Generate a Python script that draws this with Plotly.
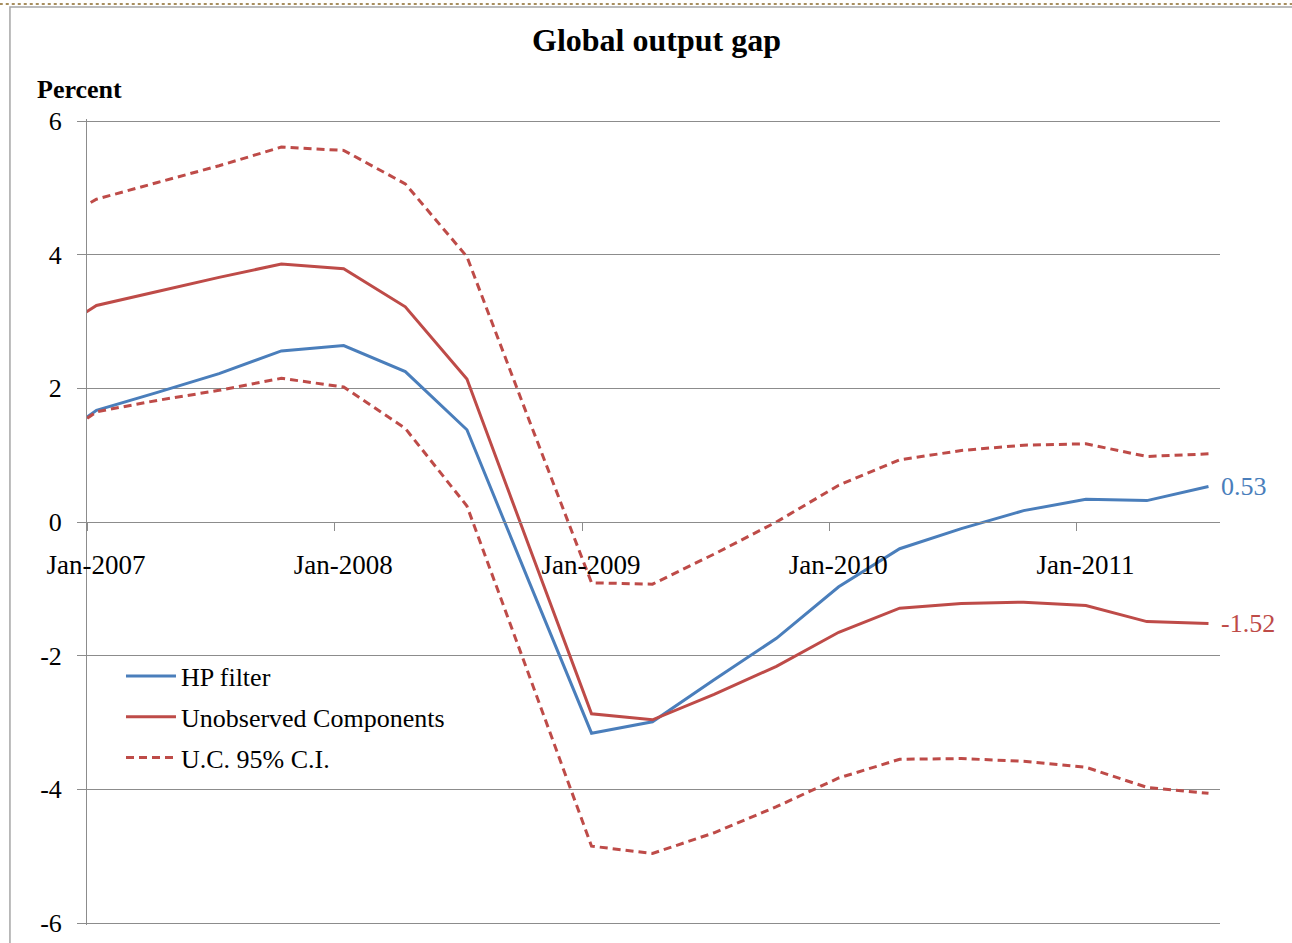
import plotly.graph_objects as go

# ---- data ----
dates = ["2006-10-15", "2007-01-15", "2007-04-15", "2007-07-15", "2007-10-15",
         "2008-01-15", "2008-04-15", "2008-07-15", "2008-10-15",
         "2009-01-15", "2009-04-15", "2009-07-15", "2009-10-15",
         "2010-01-15", "2010-04-15", "2010-07-15", "2010-10-15",
         "2011-01-15", "2011-04-15", "2011-07-15"]
hp_filter = [1.01, 1.67, 1.94, 2.22, 2.56, 2.64, 2.25, 1.38, -0.90,
             -3.16, -2.99, -2.36, -1.74, -0.97, -0.40, -0.10, 0.17,
             0.34, 0.32, 0.53]
unobserved = [2.65, 3.24, 3.45, 3.66, 3.86, 3.79, 3.22, 2.14, -0.37,
              -2.87, -2.96, -2.58, -2.16, -1.65, -1.29, -1.22, -1.20,
              -1.25, -1.49, -1.52]
ci_upper = [4.30, 4.83, 5.08, 5.33, 5.61, 5.56, 5.06, 3.97, 1.52,
            -0.91, -0.93, -0.48, 0.00, 0.55, 0.93, 1.07, 1.15,
            1.17, 0.98, 1.02]
ci_lower = [0.99, 1.65, 1.82, 1.97, 2.15, 2.02, 1.40, 0.24, -2.30,
            -4.85, -4.96, -4.65, -4.26, -3.83, -3.55, -3.54, -3.58,
            -3.67, -3.97, -4.06]
tick_dates = ["2007-01-01", "2008-01-01", "2009-01-01", "2010-01-01", "2011-01-01"]
tick_labels = ["Jan-2007", "Jan-2008", "Jan-2009", "Jan-2010", "Jan-2011"]
y_ticks = [-6, -4, -2, 0, 2, 4, 6]
y_tick_labels = [str(v) for v in y_ticks]

BLUE = "#4A7EBB"
RED = "#BE4B48"
FONT = "Liberation Serif"
FS = 26

fig = go.Figure()
fig.add_trace(go.Scatter(x=dates, y=hp_filter, mode="lines", name="HP filter",
                         line=dict(color=BLUE, width=3), legendgroup="a"))
fig.add_trace(go.Scatter(x=dates, y=unobserved, mode="lines", name="Unobserved Components",
                         line=dict(color=RED, width=3), legendgroup="b"))
fig.add_trace(go.Scatter(x=dates, y=ci_upper, mode="lines", name="U.C. 95% C.I.",
                         line=dict(color=RED, width=3, dash="8px,5px"), legendgroup="c"))
fig.add_trace(go.Scatter(x=dates, y=ci_lower, mode="lines", name="U.C. 95% C.I.",
                         line=dict(color=RED, width=3, dash="8px,5px"), legendgroup="c",
                         showlegend=False))

# end labels
fig.add_annotation(x=dates[-1], y=hp_filter[-1], text=f"{hp_filter[-1]:.2f}",
                   showarrow=False, xanchor="left", xshift=11,
                   font=dict(family=FONT, size=FS, color=BLUE))
fig.add_annotation(x=dates[-1], y=unobserved[-1], text=f"{unobserved[-1]:.2f}",
                   showarrow=False, xanchor="left", xshift=11,
                   font=dict(family=FONT, size=FS, color=RED))

# title and axis title
fig.add_annotation(xref="paper", yref="paper", x=0.503, y=1.098,
                   text="<b>Global output gap</b>", showarrow=False,
                   xanchor="center", yanchor="middle",
                   font=dict(family=FONT, size=32, color="black"))
fig.add_annotation(xref="paper", yref="paper", x=-0.0459, y=1.037,
                   text="<b>Percent</b>", showarrow=False,
                   xanchor="left", yanchor="middle",
                   font=dict(family=FONT, size=FS, color="black"))

# chart frame + dotted page border
fig.add_shape(type="line", xref="paper", yref="paper", x0=-0.077, x1=1.08, y0=1.1427, y1=1.1427,
              line=dict(color="#8B6A2B", width=1.5, dash="dot"))
fig.add_shape(type="rect", xref="paper", yref="paper", x0=-0.068, x1=1.08, y0=-0.04, y1=1.139,
              line=dict(color="#A6A6A6", width=1.5), fillcolor="rgba(0,0,0,0)")

fig.update_layout(
    width=1292, height=943, autosize=False,
    margin=dict(l=87, r=72, t=119, b=18),
    paper_bgcolor="white", plot_bgcolor="white",
    font=dict(family=FONT, size=FS, color="black"),
    showlegend=True,
    legend=dict(x=0.030, y=0.338, xanchor="left", yanchor="top", itemwidth=50,
                bgcolor="rgba(0,0,0,0)", traceorder="grouped", tracegroupgap=4,
                font=dict(family=FONT, size=FS, color="black")),
    xaxis=dict(type="date", range=["2007-01-01", "2011-08-01"],
               tickmode="array", tickvals=tick_dates, ticktext=tick_labels,
               showgrid=False, showline=True, linecolor="#8C8C8C", linewidth=1,
               ticks="outside", ticklen=8, tickcolor="#8C8C8C",
               anchor="free", position=0.5, ticklabelstandoff=11, ticklabelshift=9,
               automargin=False,
               tickfont=dict(family=FONT, size=27, color="black")),
    yaxis=dict(range=[-6.03, 6.03], tickmode="array", tickvals=y_ticks,
               ticktext=y_tick_labels, showgrid=True, gridcolor="#8C8C8C",
               gridwidth=1, zeroline=False, showline=True, linecolor="#8C8C8C",
               ticks="outside", ticklen=9, tickcolor="#8C8C8C", ticklabelstandoff=10,
               automargin=False,
               tickfont=dict(family=FONT, size=FS, color="black")),
)

fig.write_html("out.html")
